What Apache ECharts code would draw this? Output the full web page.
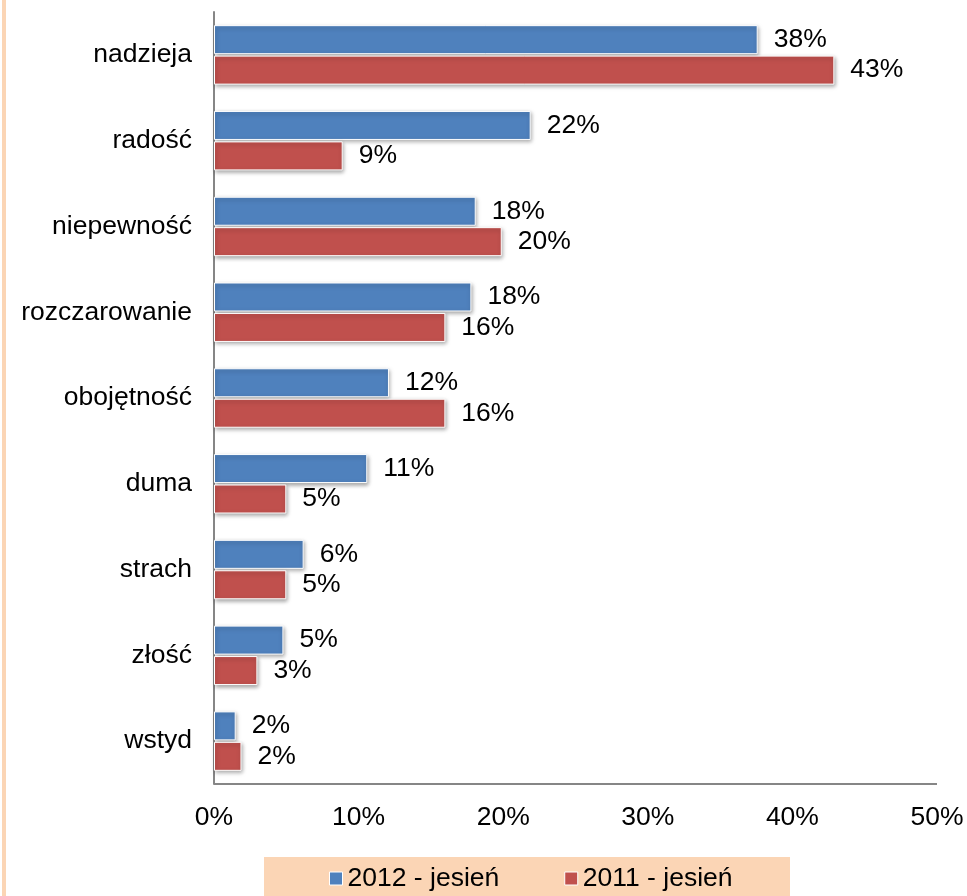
<!DOCTYPE html>
<html><head><meta charset="utf-8">
<script src="https://cdn.jsdelivr.net/npm/echarts@6/dist/echarts.min.js"></script>
<style>html,body{margin:0;padding:0;background:#fff}#c{width:967px;height:896px}</style>
</head><body><div id="c"></div>
<script>
var categories = ['nadzieja','radość','niepewność','rozczarowanie','obojętność','duma','strach','złość','wstyd'];
var series2012 = [37.6, 21.9, 18.1, 17.8, 12.1, 10.6, 6.2, 4.8, 1.5];
var series2011 = [42.9, 8.9, 19.9, 16.0, 16.0, 5.0, 5.0, 3.0, 1.9];
var seriesNames = ['2012 - jesień', '2011 - jesień'];
var xTicks = [0, 10, 20, 30, 40, 50];

var chart = echarts.init(document.getElementById('c'));
var font = 'Liberation Sans, Arial, sans-serif';
var fs = 26.5;
function lbl(p){ return Math.round(p.value) + '%'; }
var barStyle = function(c){ return {color:c, borderColor:'#fff', borderWidth:1, shadowColor:'rgba(0,0,0,0.35)', shadowBlur:4, shadowOffsetX:1, shadowOffsetY:2}; };
chart.setOption({
  animation:false,
  textStyle:{fontFamily:font},
  graphic:[{type:'rect', shape:{x:2,y:0,width:4,height:896}, style:{fill:'#FBD5B5'}, z:0},
           {type:'rect', shape:{x:264,y:857,width:526,height:45}, style:{fill:'#FBD5B5'}, z:0},
           {type:'line', shape:{x1:214,y1:784,x2:937,y2:784}, style:{stroke:'#868686', lineWidth:2}, z:3}],
  grid:{left:214, right:30, top:12, bottom:112},
  legend:{bottom:-1, left:324, itemWidth:13, itemHeight:13, itemGap:65, icon:'rect',
    itemStyle:{borderColor:'#fff', borderWidth:1},
    textStyle:{fontSize:fs, color:'#000', fontFamily:font}, data:seriesNames, z:5},
  xAxis:{type:'value', min:0, max:50, interval:10,
    axisLine:{show:false}, axisTick:{show:false}, splitLine:{show:false},
    axisLabel:{fontSize:fs, color:'#000', margin:20, formatter:function(v){return v+'%';}}},
  yAxis:{type:'category', inverse:true, data:categories,
    axisLine:{show:true, lineStyle:{color:'#868686', width:2}}, axisTick:{show:false},
    axisLabel:{fontSize:fs, color:'#000', margin:22}},
  series:[
    {name:seriesNames[0], type:'bar', data:series2012, barWidth:29, barGap:'5%',
     itemStyle:barStyle('#4F81BD'),
     label:{show:true, position:'right', distance:16, fontSize:fs, color:'#000', formatter:lbl}},
    {name:seriesNames[1], type:'bar', data:series2011, barWidth:29, barGap:'5%',
     itemStyle:barStyle('#C0504D'),
     label:{show:true, position:'right', distance:16, fontSize:fs, color:'#000', formatter:lbl}}
  ]
});
</script></body></html>
